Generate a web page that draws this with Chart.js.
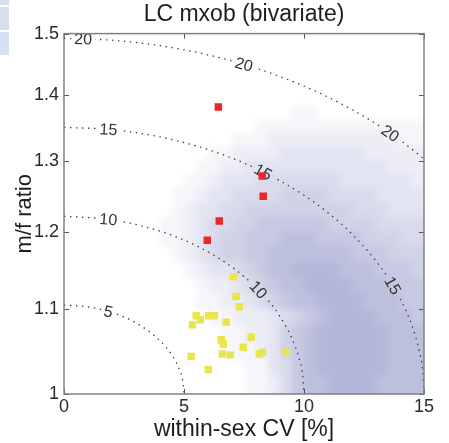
<!DOCTYPE html>
<html>
<head>
<title>LC mxob (bivariate)</title>
<style>
  body { margin: 0; background: #fff; }
  #wrap { position: relative; width: 449px; height: 443px; }
  .tab { position: absolute; left: 0; width: 9px; background: #d6e0f1; }
</style>
</head>
<body>
<div id="wrap">
  <canvas id="lcChart" width="449" height="443"></canvas>
  <div class="tab" style="top:0;height:5px"></div>
  <div class="tab" style="top:7px;height:23px"></div>
  <div class="tab" style="top:32px;height:23px"></div>
</div>
<script src="https://cdn.jsdelivr.net/npm/chart.js"></script>
<script>
// axis ticks
const xTicks = [0, 5, 10, 15];
const xTickLabels = ['0', '5', '10', '15'];
const yTicks = [1, 1.1, 1.2, 1.3, 1.4, 1.5];
const yTickLabels = ['1', '1.1', '1.2', '1.3', '1.4', '1.5'];

// observed species
const redX = [6.43, 6.47, 5.97, 8.26, 8.30];
const redY = [1.381, 1.215, 1.189, 1.278, 1.249];
const yellowX = [7.05, 7.17, 7.30, 5.51, 5.68, 6.03, 6.26, 6.76, 5.35, 6.55,
                 6.64, 7.80, 7.47, 6.60, 6.93, 5.30, 8.14, 8.26, 9.26, 6.01];
const yellowY = [1.141, 1.116, 1.103, 1.092, 1.087, 1.092, 1.092, 1.084, 1.081, 1.063,
                 1.058, 1.066, 1.054, 1.046, 1.045, 1.043, 1.046, 1.048, 1.048, 1.028];

// iso-lines [CV, ratio]
const contour5 = [[0, 1.1052], [1, 1.1030], [2, 1.0960], [3, 1.0833], [4, 1.0618],
                  [4.5, 1.0446], [4.8, 1.0284], [4.95, 1.0142], [5, 1.0]];
const contour10 = [[0, 1.2214], [2, 1.2165], [4, 1.2012], [5, 1.1891], [6, 1.1735],
                   [7, 1.1535], [8, 1.1275], [8.5, 1.1112], [9, 1.0911], [9.5, 1.0644],
                   [9.8, 1.0406], [9.95, 1.0202], [10, 1.0]];
const contour15 = [[0, 1.3499], [2, 1.3463], [4, 1.3353], [6, 1.3165], [8, 1.2889],
                   [10, 1.2506], [11, 1.2263], [12, 1.1972], [13, 1.1615], [13.5, 1.1397],
                   [14, 1.1137], [14.5, 1.0798], [14.8, 1.0500], [14.95, 1.0248], [15, 1.0]];
const contour20 = [[0, 1.4918], [2, 1.4889], [4, 1.4798], [6, 1.4646], [8, 1.4428],
                   [10, 1.4140], [11, 1.3966], [12, 1.3771], [13, 1.3553], [14, 1.3307], [15, 1.3029]];
const contourLevels = [5, 10, 15, 20];
const contourData = [contour5, contour10, contour15, contour20];
// [level, CV, ratio] of each inline label
const contourLabels = [[20, 0.8, 1.4912], [20, 7.5, 1.4489], [20, 13.6, 1.3408],
                       [15, 1.85, 1.3468], [15, 8.3, 1.2839], [15, 13.7, 1.1299],
                       [10, 1.85, 1.2172], [10, 8.1, 1.1245], [5, 1.85, 1.0974]];

// simulated density, cell lower-left corners, rows listed top to bottom
const heatX = [4, 4.5, 5, 5.5, 6, 6.5, 7, 7.5, 8, 8.5, 9, 9.5, 10, 10.5, 11, 11.5, 12, 12.5, 13, 13.5, 14, 14.5];
const heatY = [1.38, 1.36, 1.34, 1.32, 1.30, 1.28, 1.26, 1.24, 1.22, 1.20,
               1.18, 1.16, 1.14, 1.12, 1.10, 1.08, 1.06, 1.04, 1.02, 1.00];
const heatDx = 0.5, heatDy = 0.02;
const heatRows = [
  [0,0,0,0,0,0,0,0,0,0,0,0,0,0,0,0,0,0,0,0,0,0],
  [0,0,0,0,0,0,0,0,0,0,0,1,1,0,0,0,0,0,0,0,0,0],
  [0,0,0,0,0,0,0,0,1,1,1,1,1,1,1,1,1,1,1,1,1,1],
  [0,0,0,0,0,0,1,1,1,2,2,2,2,2,2,2,2,2,2,2,1,1],
  [0,0,0,0,1,1,2,2,2,2,3,3,3,3,3,3,3,2,2,2,2,2],
  [0,0,0,1,1,2,2,3,3,3,3,3,3,3,3,3,3,3,3,2,2,2],
  [0,0,1,1,2,3,3,3,4,4,4,4,4,4,4,3,3,3,3,3,3,2],
  [0,1,1,2,3,3,4,4,4,4,5,5,5,5,4,4,4,4,3,3,3,3],
  [0,1,2,3,3,4,4,5,5,5,5,5,5,5,5,5,4,4,4,3,3,3],
  [1,1,2,3,4,4,5,5,6,6,6,6,6,6,5,5,5,5,4,4,4,4],
  [1,1,2,3,4,5,5,6,6,6,7,7,7,6,6,6,6,5,5,5,4,4],
  [0,1,2,3,4,5,5,6,6,7,7,7,7,7,7,7,6,6,6,5,5,5],
  [0,0,1,2,3,3,4,5,6,7,7,8,8,8,8,7,7,7,6,6,6,5],
  [0,0,0,1,2,2,3,4,5,6,7,7,8,8,8,8,7,7,7,6,6,6],
  [0,0,0,1,1,2,2,3,4,5,6,7,7,8,8,8,8,7,7,7,6,6],
  [0,0,0,0,1,1,2,2,2,3,4,5,6,7,8,8,8,8,7,7,7,6],
  [0,0,0,0,0,1,1,2,2,3,5,6,7,8,8,8,8,8,8,7,7,7],
  [0,0,0,0,0,0,1,1,2,3,5,6,7,8,8,8,8,8,8,7,7,7],
  [0,0,0,0,0,0,0,1,1,3,4,6,7,8,8,8,8,8,8,7,7,7],
  [0,0,0,0,0,0,0,1,1,2,4,6,7,7,8,8,8,8,7,7,7,7]
];

function shade(lv) {
  const r = Math.round(255 - 9.4 * lv), g = Math.round(255 - 9 * lv), b = Math.round(255 - 4.8 * lv);
  return `rgb(${r},${g},${b})`;
}

const FONT = '"Liberation Sans", Arial, Helvetica, sans-serif';
Chart.defaults.font.family = FONT;
Chart.defaults.color = '#2a2a2a';

// density background: cells painted off-screen, then softened onto the plot
const heatPlugin = {
  id: 'heat',
  beforeDatasetsDraw(chart) {
    const {ctx, chartArea: a, scales: {x, y}} = chart;
    const off = document.createElement('canvas');
    off.width = chart.width;
    off.height = chart.height;
    const oc = off.getContext('2d');
    heatRows.forEach((row, j) => {
      const y0 = y.getPixelForValue(heatY[j] + heatDy);
      const y1 = j === heatRows.length - 1 ? chart.height : y.getPixelForValue(heatY[j]);
      row.forEach((lv, i) => {
        if (!lv) return;
        const x0 = x.getPixelForValue(heatX[i]);
        const x1 = i === row.length - 1 ? chart.width : x.getPixelForValue(heatX[i] + heatDx);
        oc.fillStyle = shade(lv);
        oc.fillRect(Math.floor(x0), Math.floor(y0), Math.ceil(x1) - Math.floor(x0), Math.ceil(y1) - Math.floor(y0));
      });
    });
    ctx.save();
    ctx.beginPath();
    ctx.rect(a.left, a.top, a.right - a.left, a.bottom - a.top);
    ctx.clip();
    ctx.filter = 'blur(3px)';
    ctx.drawImage(off, 0, 0);
    ctx.restore();
  }
};

function labelGeometry(chart, lab) {
  const {x, y} = chart.scales;
  const pts = contourData[contourLevels.indexOf(lab[0])];
  let i = 0;
  while (i < pts.length - 2 && pts[i + 1][0] < lab[1]) i++;
  const ax = x.getPixelForValue(pts[i][0]), ay = y.getPixelForValue(pts[i][1]);
  const bx = x.getPixelForValue(pts[i + 1][0]), by = y.getPixelForValue(pts[i + 1][1]);
  return {
    cx: x.getPixelForValue(lab[1]),
    cy: y.getPixelForValue(lab[2]),
    angle: Math.atan2(by - ay, bx - ax)
  };
}

// inline contour labels; the dotted line is cut where a label sits
const labelPlugin = {
  id: 'contourLabels',
  beforeDatasetDraw(chart, args) {
    const ds = chart.data.datasets[args.index];
    if (ds.contourLevel === undefined) return;
    const ctx = chart.ctx;
    ctx.save();
    ctx.font = '16px ' + FONT;
    ctx.beginPath();
    ctx.rect(0, 0, chart.width, chart.height);
    contourLabels.filter(l => l[0] === ds.contourLevel).forEach(l => {
      const g = labelGeometry(chart, l);
      const hw = ctx.measureText(String(l[0])).width / 2 + 3, hh = 8;
      const c = Math.cos(g.angle), s = Math.sin(g.angle);
      [[-hw, -hh], [hw, -hh], [hw, hh], [-hw, hh]].forEach((p, k) => {
        const px = g.cx + p[0] * c - p[1] * s, py = g.cy + p[0] * s + p[1] * c;
        k ? ctx.lineTo(px, py) : ctx.moveTo(px, py);
      });
      ctx.closePath();
    });
    ctx.clip('evenodd');
  },
  afterDatasetDraw(chart, args) {
    const ds = chart.data.datasets[args.index];
    if (ds.contourLevel === undefined) return;
    const ctx = chart.ctx;
    ctx.restore();
    ctx.save();
    ctx.font = '16px ' + FONT;
    ctx.fillStyle = '#333';
    ctx.textAlign = 'center';
    ctx.textBaseline = 'middle';
    contourLabels.filter(l => l[0] === ds.contourLevel).forEach(l => {
      const g = labelGeometry(chart, l);
      ctx.save();
      ctx.translate(g.cx, g.cy);
      ctx.rotate(g.angle);
      ctx.fillText(String(l[0]), 0, 1);
      ctx.restore();
    });
    ctx.restore();
  }
};

// box with inward tick marks on all four sides
const framePlugin = {
  id: 'frame',
  afterDraw(chart) {
    const {ctx, chartArea: a, scales: {x, y}} = chart;
    ctx.save();
    ctx.strokeStyle = '#555';
    ctx.lineWidth = 1;
    const seg = (x0, y0, x1, y1) => { ctx.beginPath(); ctx.moveTo(x0, y0); ctx.lineTo(x1, y1); ctx.stroke(); };
    xTicks.forEach(v => {
      const p = Math.round(x.getPixelForValue(v)) + 0.5;
      seg(p, a.bottom, p, a.bottom - 5);
      seg(p, a.top, p, a.top + 5);
    });
    yTicks.forEach(v => {
      const p = Math.round(y.getPixelForValue(v)) + 0.5;
      seg(a.left, p, a.left + 5, p);
      seg(a.right, p, a.right - 5, p);
    });
    ctx.strokeStyle = '#808080';
    ctx.lineWidth = 1.5;
    ctx.strokeRect(a.left, a.top, a.right - a.left, a.bottom - a.top);
    ctx.restore();
  }
};

const contourSets = contourData.map((pts, k) => ({
  contourLevel: contourLevels[k],
  data: pts.map(p => ({x: p[0], y: p[1]})),
  showLine: true,
  pointRadius: 0,
  borderColor: '#3a3a3a',
  borderWidth: 1.3,
  borderDash: [1.4, 4.6],
  cubicInterpolationMode: 'monotone',
  fill: false,
  order: 2
}));

new Chart(document.getElementById('lcChart'), {
  type: 'scatter',
  data: {
    datasets: [
      {
        data: redX.map((v, i) => ({x: v, y: redY[i]})),
        pointStyle: 'rect',
        pointRadius: 5.3,
        pointBackgroundColor: '#e8282b',
        pointBorderWidth: 0,
        order: 1
      },
      {
        data: yellowX.map((v, i) => ({x: v, y: yellowY[i]})),
        pointStyle: 'rect',
        pointRadius: 5.3,
        pointBackgroundColor: '#e9e54c',
        pointBorderWidth: 0,
        order: 1
      },
      ...contourSets
    ]
  },
  options: {
    responsive: false,
    animation: false,
    events: [],
    devicePixelRatio: 1,
    layout: { padding: { left: 0, right: 25, top: 0, bottom: 0 } },
    plugins: {
      legend: { display: false },
      tooltip: { enabled: false },
      title: {
        display: true,
        fullSize: false,
        text: 'LC mxob (bivariate)',
        color: '#1e1e1e',
        font: { size: 23, weight: 'normal' },
        padding: { top: 1, bottom: 5 }
      }
    },
    scales: {
      x: {
        type: 'linear',
        min: 0,
        max: 15,
        afterBuildTicks: s => { s.ticks = xTicks.map(v => ({value: v})); },
        afterFit: s => { s.height = 49; },
        grid: { display: false, drawTicks: false },
        border: { display: false },
        ticks: {
          autoSkip: false,
          maxRotation: 0,
          padding: 2,
          color: '#2a2a2a',
          font: { size: 18 },
          callback: (v, i) => xTickLabels[i]
        },
        title: {
          display: true,
          text: 'within-sex CV [%]',
          color: '#1e1e1e',
          font: { size: 23 },
          padding: { top: 0, bottom: 0 }
        }
      },
      y: {
        type: 'logarithmic',
        min: 1,
        max: 1.5,
        afterBuildTicks: s => { s.ticks = yTicks.map(v => ({value: v})); },
        afterFit: s => { s.width = 64; },
        grid: { display: false, drawTicks: false },
        border: { display: false },
        ticks: {
          autoSkip: false,
          padding: 5,
          color: '#2a2a2a',
          font: { size: 18 },
          callback: (v, i) => yTickLabels[i]
        },
        title: {
          display: true,
          text: 'm/f ratio',
          color: '#1e1e1e',
          font: { size: 22 },
          padding: { top: 12, bottom: 0 }
        }
      }
    }
  },
  plugins: [heatPlugin, labelPlugin, framePlugin]
});
</script>
</body>
</html>
